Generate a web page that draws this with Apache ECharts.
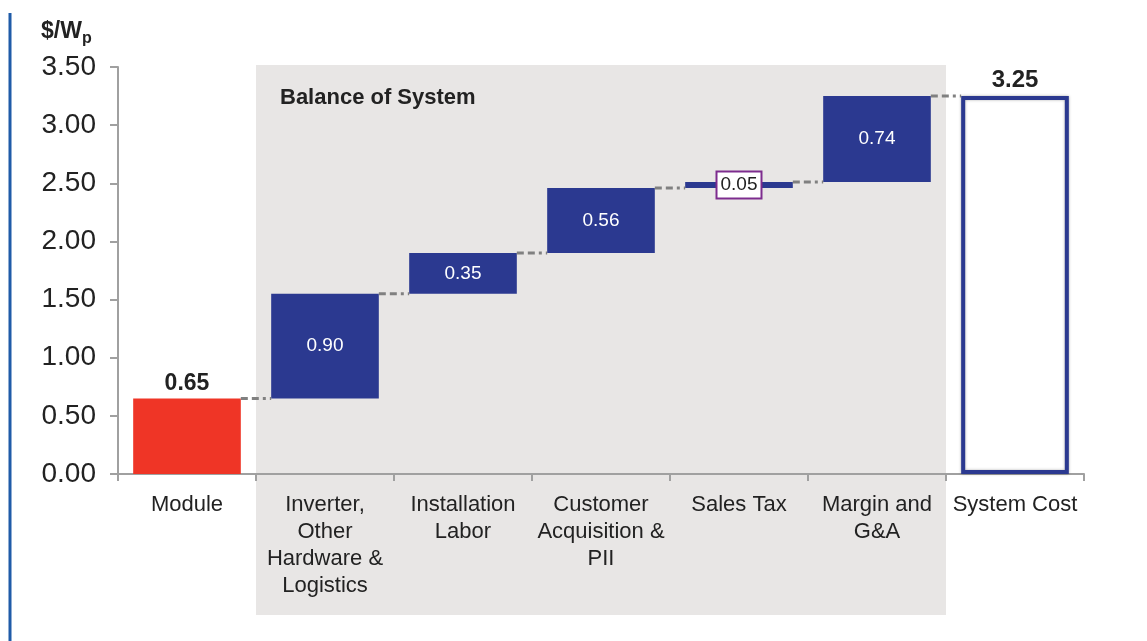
<!DOCTYPE html>
<html>
<head>
<meta charset="utf-8">
<script src="https://cdn.jsdelivr.net/npm/echarts@6/dist/echarts.min.js"></script>
<style>
  html, body { margin: 0; padding: 0; background: #fff; }
  #chart { width: 1147px; height: 641px; }
</style>
</head>
<body>
<div id="chart"></div>
<script>
// waterfall data, $/Wp
const categories = ['Module', 'Inverter,\nOther\nHardware &\nLogistics', 'Installation\nLabor', 'Customer\nAcquisition &\nPII', 'Sales Tax', 'Margin and\nG&A', 'System Cost']
const costs = [0.65, 0.90, 0.35, 0.56, 0.05, 0.74, 3.25]
const bosRange = [1, 5] // categories inside the "Balance of System" box

const last = costs.length - 1
const bases = costs.map((v, i) => (i === 0 || i === last) ? 0 : costs.slice(0, i).reduce((a, b) => a + b, 0))
const tops = costs.map((v, i) => bases[i] + v)

const BLUE = '#2b3990'
const RED = '#ef3526'
const TEXT = '#222'
const BAR_W = 0.78

const myChart = echarts.init(document.getElementById('chart'))

const valueData = costs.map((v, i) => {
  if (i === 0) {
    return { value: v, itemStyle: { color: RED }, label: { position: 'top', color: TEXT, fontWeight: 'bold', fontSize: 23, distance: 3 } }
  }
  if (i === last) {
    return {
      value: v,
      itemStyle: { color: '#fff', borderColor: BLUE, borderWidth: 4, shadowColor: 'rgba(0,0,0,0.3)', shadowBlur: 3 },
      label: { position: 'top', color: TEXT, fontWeight: 'bold', fontSize: 24, distance: 4 }
    }
  }
  if (v < 0.1) {
    // too thin for an inside label, boxed label instead
    return {
      value: v,
      itemStyle: { color: BLUE },
      label: { position: 'inside', color: TEXT, fontSize: 19, backgroundColor: '#fff', borderColor: '#7d2c8e', borderWidth: 2, padding: [4, 3, 2, 3] }
    }
  }
  return { value: v, itemStyle: { color: BLUE } }
})

const option = {
  animation: false,
  textStyle: { fontFamily: 'Liberation Sans, Arial, sans-serif' },
  title: {
    text: '{a|$/W}{b|p}',
    left: 36,
    top: 12,
    textStyle: {
      rich: {
        a: { fontSize: 23, fontWeight: 'bold', color: TEXT, fontFamily: 'Liberation Sans' },
        b: { fontSize: 16, fontWeight: 'bold', color: TEXT, fontFamily: 'Liberation Sans', padding: [14, 0, 0, 0] }
      }
    }
  },
  graphic: [
    { type: 'line', shape: { x1: 10, y1: 13, x2: 10, y2: 641 }, style: { stroke: '#1f5ba8', lineWidth: 3 } }
  ],
  grid: { left: 118, right: 63, top: 67, bottom: 167, containLabel: false },
  xAxis: {
    type: 'category',
    data: categories,
    axisLine: { lineStyle: { color: '#a0a0a0', width: 2 } },
    axisTick: { show: true, length: 7, lineStyle: { color: '#a0a0a0', width: 2 } },
    axisLabel: { interval: 0, color: TEXT, fontSize: 22, lineHeight: 27, margin: 17 }
  },
  yAxis: {
    type: 'value',
    min: 0,
    max: 3.5,
    interval: 0.5,
    splitLine: { show: false },
    axisLine: { show: true, lineStyle: { color: '#a0a0a0', width: 2 } },
    axisTick: { show: true, length: 8, lineStyle: { color: '#a0a0a0', width: 2 } },
    axisLabel: { color: TEXT, fontSize: 28, margin: 22, formatter: v => v.toFixed(2) }
  },
  series: [
    {
      // grey "Balance of System" backdrop
      type: 'custom',
      z: -1,
      silent: true,
      clip: false,
      data: [bosRange],
      renderItem: (params, api) => {
        const bw = api.size([1, 0])[0]
        const left = api.coord([api.value(0), 3.5])[0] - bw / 2
        const right = api.coord([api.value(1), 3.5])[0] + bw / 2
        const top = api.coord([0, 3.5])[1] - 2
        const bottom = api.coord([0, 0])[1] + 141
        return {
          type: 'group',
          children: [
            { type: 'rect', shape: { x: left, y: top, width: right - left, height: bottom - top }, style: { fill: '#e8e6e5' } },
            { type: 'text', x: left + 24, y: top + 33, style: { text: 'Balance of System', fill: TEXT, font: 'bold 22px Liberation Sans', textVerticalAlign: 'middle' } }
          ]
        }
      }
    },
    {
      name: 'base',
      type: 'bar',
      stack: 'total',
      barWidth: BAR_W * 100 + '%',
      silent: true,
      itemStyle: { color: 'transparent' },
      data: bases
    },
    {
      name: 'cost',
      type: 'bar',
      stack: 'total',
      barWidth: BAR_W * 100 + '%',
      label: { show: true, position: 'inside', color: '#fff', fontSize: 19, formatter: p => p.value.toFixed(2) },
      data: valueData
    },
    {
      // dashed connectors between consecutive bars
      type: 'custom',
      silent: true,
      z: 3,
      data: tops.slice(0, last).map((t, i) => [i, t]),
      renderItem: (params, api) => {
        const p = api.coord([api.value(0), api.value(1)])
        const bw = api.size([1, 0])[0]
        const half = bw * BAR_W / 2
        return {
          type: 'line',
          shape: { x1: p[0] + half, y1: p[1], x2: p[0] + bw - half, y2: p[1] },
          style: { stroke: '#808080', lineWidth: 3, lineDash: [7, 4, 7, 4, 3, 4] }
        }
      }
    }
  ]
}

myChart.setOption(option)
</script>
</body>
</html>
